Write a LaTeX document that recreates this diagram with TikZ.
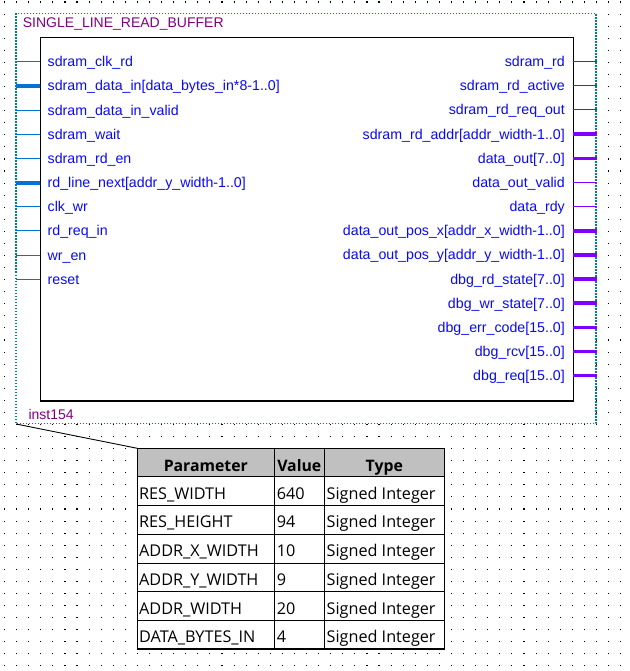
\documentclass[tikz,border=0pt]{standalone}
\usepackage{fontspec}
\setmainfont{Liberation Sans}
\newfontfamily\tabfont{Open Sans}
\definecolor{leftwire}{RGB}{0,114,210}
\definecolor{rightwire}{RGB}{128,0,255}
\definecolor{labelblue}{RGB}{10,10,240}
\definecolor{titlepurple}{RGB}{128,0,128}
\definecolor{boxteal}{RGB}{0,128,128}
\definecolor{headgray}{RGB}{192,192,192}
\begin{document}
\begin{tikzpicture}[x=1pt,y=-1pt,
  plab/.style={text=labelblue,font=\fontsize{14.2}{16}\selectfont,inner sep=0pt},
  ttl/.style={text=titlepurple,font=\fontsize{14}{16}\selectfont,inner sep=0pt},
  tcell/.style={font=\tabfont\fontsize{16.2}{18}\selectfont,inner sep=0pt,anchor=base west},
  thead/.style={font=\tabfont\bfseries\fontsize{15.8}{18}\selectfont,inner sep=0pt,anchor=base},
  lwire/.style={draw=leftwire},
  rwire/.style={draw=rightwire},
  ]
\useasboundingbox (0,0) rectangle (629,671);
\fill[white] (0,0) rectangle (629,671);
% grid dots
\foreach \i in {0,...,51}{
  \foreach \j in {0,...,55}{
    \fill[black] (4+12.08*\i,1.5+12.07*\j) rectangle ++(1.1,1.1);
  }
}
% symbol area
\fill[white] (16,13.5) rectangle (596,423.5);
\draw[boxteal,line width=1.1pt,dash pattern=on 1.1pt off 1.9pt] (16,13.5) rectangle (596,423.5);
\coordinate (boxbl) at (16,424);
\node[ttl,anchor=base west] (title) at (22.7,27.3) {SINGLE\_LINE\_READ\_BUFFER};
\node[ttl,anchor=base west] (inst) at (28.3,419) {inst154};
% block
\draw[black,line width=1.4pt] (40.3,37.7) rectangle (573.3,401);
% left ports
\foreach \i/\lab/\w in {
  0/{sdram\_clk\_rd}/1,
  1/{sdram\_data\_in[data\_bytes\_in*8-1..0]}/3.8,
  2/{sdram\_data\_in\_valid}/1,
  3/{sdram\_wait}/1,
  4/{sdram\_rd\_en}/1,
  5/{rd\_line\_next[addr\_y\_width-1..0]}/3.8,
  6/{clk\_wr}/1,
  7/{rd\_req\_in}/1,
  8/{wr\_en}/1,
  9/{reset}/1}{
  \coordinate (La\i) at (15.5,61.7+24.18*\i);
  \coordinate (Lb\i) at (40.3,61.7+24.18*\i);
  \draw[lwire,line width=\w pt] (La\i) -- (Lb\i);
  \node[plab,anchor=base west] (Ln\i) at (47.5,66.7+24.18*\i) {\lab};
}
% right ports
\foreach \i/\lab/\w in {
  0/{sdram\_rd}/1,
  1/{sdram\_rd\_active}/1,
  2/{sdram\_rd\_req\_out}/1,
  3/{sdram\_rd\_addr[addr\_width-1..0]}/3.5,
  4/{data\_out[7..0]}/3.5,
  5/{data\_out\_valid}/1,
  6/{data\_rdy}/1,
  7/{data\_out\_pos\_x[addr\_x\_width-1..0]}/3.5,
  8/{data\_out\_pos\_y[addr\_y\_width-1..0]}/3.5,
  9/{dbg\_rd\_state[7..0]}/3.5,
  10/{dbg\_wr\_state[7..0]}/3.5,
  11/{dbg\_err\_code[15..0]}/3.5,
  12/{dbg\_rcv[15..0]}/3.5,
  13/{dbg\_req[15..0]}/3.5}{
  \coordinate (Ra\i) at (573.3,61.7+24.15*\i);
  \coordinate (Rb\i) at (597,61.7+24.15*\i);
  \draw[rwire,line width=\w pt] (Ra\i) -- (Rb\i);
  \node[plab,anchor=base east] (Rn\i) at (565,66.7+24.15*\i) {\lab};
}
% table
\fill[white] (137.3,448.3) rectangle (444.3,649.3);
\fill[headgray] (137.3,448.3) rectangle (444.3,476);
\coordinate (tabtl) at (137.3,448.3);
\draw[black,line width=0.9pt] (boxbl) -- (tabtl);
\foreach \y in {476,505,534,563,591.7,620.3}{
  \draw[black,line width=0.9pt] (137.3,\y) -- (444.3,\y);
}
\foreach \x in {274.3,324.3}{
  \draw[black,line width=0.9pt] (\x,448.3) -- (\x,649.3);
}
\draw[black,line width=0.9pt] (137.3,649.3) -- (137.3,448.3) -- (444.3,448.3) -- (444.3,649.3);
\draw[black,line width=2.2pt] (136.9,649.3) -- (444.7,649.3);
\node[thead] (hP) at (205.8,471.7) {Parameter};
\node[thead] (hV) at (299.3,471.7) {Value};
\node[thead] (hT) at (384.3,471.7) {Type};
\foreach \r/\p/\v in {0/RES\_WIDTH/640,1/RES\_HEIGHT/94,2/ADDR\_X\_WIDTH/10,3/ADDR\_Y\_WIDTH/9,4/ADDR\_WIDTH/20,5/DATA\_BYTES\_IN/4}{
  \node[tcell] (p\r) at (139,499+28.75*\r) {\p};
  \node[tcell] (v\r) at (276.7,499+28.75*\r) {\v};
  \node[tcell] (t\r) at (326.5,499+28.75*\r) {Signed Integer};
}
\end{tikzpicture}
\end{document}
